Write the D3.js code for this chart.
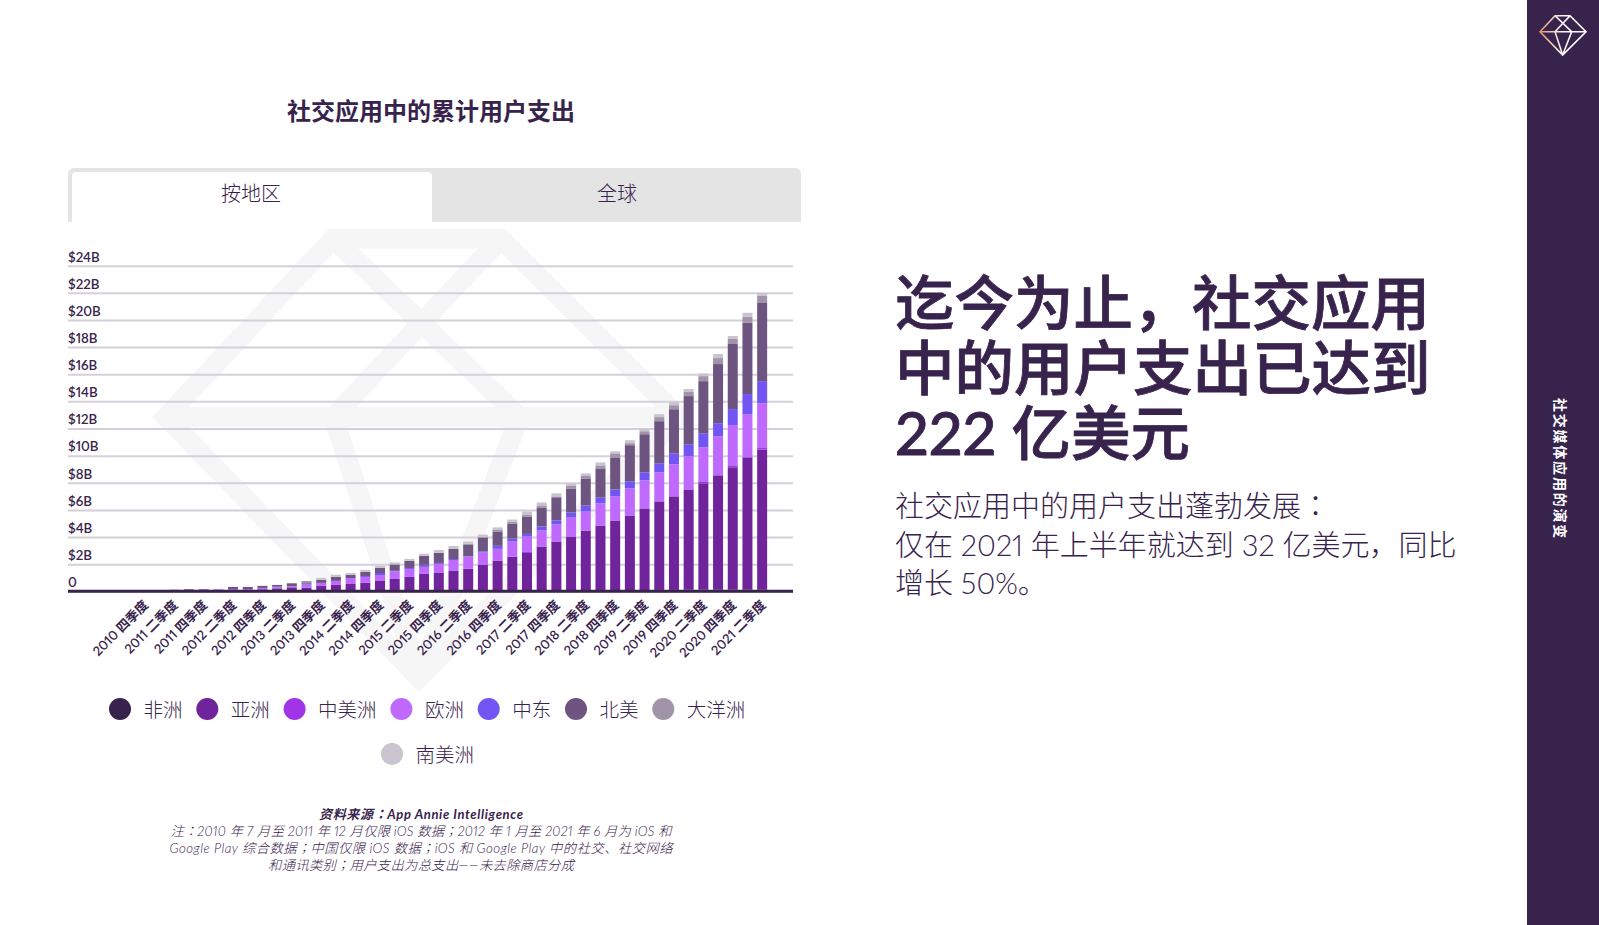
<!DOCTYPE html>
<html>
<head>
<meta charset="utf-8">
<script src="https://cdn.jsdelivr.net/npm/d3@7"></script>
<style>
/* full width comma and colon sit in the middle of the cell in the original */
@font-face { font-family: Punct; font-weight: 300; src: local("Noto Sans CJK KR Light"), local("Noto Sans CJK KR"); unicode-range: U+FF0C, U+FF1A, U+FF1B; }
@font-face { font-family: Punct; font-weight: 400; src: local("Noto Sans CJK KR"); unicode-range: U+FF0C, U+FF1A, U+FF1B; }
@font-face { font-family: Punct; font-weight: 500; src: local("Noto Sans CJK KR Medium"), local("Noto Sans CJK KR"); unicode-range: U+FF0C, U+FF1A, U+FF1B; }
@font-face { font-family: Punct; font-weight: 700; src: local("Noto Sans CJK KR Bold"), local("Noto Sans CJK KR"); unicode-range: U+FF0C, U+FF1A, U+FF1B; }
body { margin: 0; background: #fff; overflow: hidden; }
svg { display: block; }
text { font-family: Punct, Lato, "Noto Sans CJK SC", sans-serif; fill: #38234d; font-variant-numeric: proportional-nums; }
</style>
</head>
<body>
<script>
var svgWidth = 1599;
var svgHeight = 925;

// quarters from 2010 Q4 to 2021 Q2
var quarters = [
    "2010 四季度", "2011 一季度", "2011 二季度", "2011 三季度", "2011 四季度", "2012 一季度", "2012 二季度", "2012 三季度",
    "2012 四季度", "2013 一季度", "2013 二季度", "2013 三季度", "2013 四季度", "2014 一季度", "2014 二季度", "2014 三季度",
    "2014 四季度", "2015 一季度", "2015 二季度", "2015 三季度", "2015 四季度", "2016 一季度", "2016 二季度", "2016 三季度",
    "2016 四季度", "2017 一季度", "2017 二季度", "2017 三季度", "2017 四季度", "2018 一季度", "2018 二季度", "2018 三季度",
    "2018 四季度", "2019 一季度", "2019 二季度", "2019 三季度", "2019 四季度", "2020 一季度", "2020 二季度", "2020 三季度",
    "2020 四季度", "2021 一季度", "2021 二季度"
];

// values in billions of dollars
var africa = [0,0,0,0,0,0,0,0,0,0,0,0,0,0,0,0,0,0,0,0,0,0,0,0,0,0,0,0,0,0,0,0,0,0.05,0.05,0.1,0.1,0.12,0.12,0.12,0.12,0.12,0.12];
var asia = [0,0,0,0,0,0,0.02,0.02,0.15,0.22,0.27,0.27,0.4,0.47,0.54,0.62,0.76,0.91,1.06,1.28,1.35,1.5,1.67,1.97,2.27,2.56,2.83,3.3,3.67,4.04,4.48,4.85,5.22,5.54,6.06,6.53,6.9,7.39,7.84,8.43,9.02,9.76,10.32];
var centralAmerica = [0,0,0,0,0,0,0,0,0,0,0.05,0,0,0,0,0,0,0,0,0,0,0,0,0,0,0,0.07,0,0,0,0,0,0,0,0,0,0,0,0.15,0,0.15,0,0.12];
var europe = [0,0,0,0,0,0.15,0.15,0.15,0.1,0.07,0.05,0.22,0.22,0.3,0.44,0.44,0.44,0.57,0.59,0.52,0.67,0.81,0.89,0.89,0.86,1.11,1.13,1.18,1.26,1.4,1.4,1.63,1.77,2,2.07,2.14,2.36,2.44,2.51,2.88,2.96,3.18,3.3];
var middleEast = [0,0,0,0,0.15,0,0,0,0,0.05,0,0.07,0,0,0,0.07,0.15,0.03,0.07,0.15,0.07,0.07,0.03,0.07,0.22,0.22,0.2,0.3,0.3,0.37,0.44,0.44,0.52,0.52,0.59,0.67,0.81,0.89,1.03,0.96,1.18,1.48,1.63];
var northAmerica = [0,0,0,0.15,0,0,0.15,0.15,0.15,0.13,0.22,0.1,0.22,0.3,0.22,0.3,0.37,0.47,0.52,0.67,0.74,0.74,0.86,1.03,1.06,1.08,1.28,1.4,1.7,1.77,2,2.14,2.36,2.66,2.81,3.1,3.25,3.55,3.84,4.36,4.8,5.25,5.76];
var oceania = [0,0,0,0,0,0,0,0,0,0,0,0.1,0,0,0,0,0,0,0,0,0,0,0.05,0.05,0.15,0.17,0.15,0.15,0.07,0.22,0.22,0.22,0.3,0.15,0.22,0.3,0.3,0.3,0.37,0.44,0.37,0.44,0.52];
var southAmerica = [0,0,0.15,0,0,0,0,0,0,0,0,0,0.15,0.15,0.15,0.15,0.15,0.15,0.15,0.15,0.22,0.22,0.17,0.17,0.15,0.15,0.22,0.22,0.22,0.15,0.15,0.22,0.15,0.22,0.2,0.22,0.22,0.22,0.2,0.3,0.22,0.3,0.22];

var regionNames = ["非洲", "亚洲", "中美洲", "欧洲", "中东", "北美", "大洋洲", "南美洲"];
var regionColors = ["#38234d", "#70249b", "#a234e8", "#c069ff", "#7255f2", "#6e5480", "#a194a9", "#c9c4d0"];
var regionValues = [africa, asia, centralAmerica, europe, middleEast, northAmerica, oceania, southAmerica];
var yTicks = [0, 2, 4, 6, 8, 10, 12, 14, 16, 18, 20, 22, 24];

var headline = ["迄今为止，社交应用", "中的用户支出已达到", "222 亿美元"];
var subline = ["社交应用中的用户支出蓬勃发展：", "仅在 2021 年上半年就达到 32 亿美元，同比", "增长 50%。"];
var notes = [
    "注：2010 年 7 月至 2011 年 12 月仅限 iOS 数据；2012 年 1 月至 2021 年 6 月为 iOS 和",
    "Google Play 综合数据；中国仅限 iOS 数据；iOS 和 Google Play 中的社交、社交网络",
    "和通讯类别；用户支出为总支出——未去除商店分成"
];
var noteWidths = [501, 503, 306];

var svg = d3.select("body").append("svg").attr("width", svgWidth).attr("height", svgHeight);

// gem outline used for the watermark and the corner icon
function gemPath(x, y, s)
{
    var p = function(a, b) { return (x + a * s) + "," + (y + b * s); };
    return "M" + p(0, 0) + "L" + p(45, -48) + "L" + p(90, -48) + "L" + p(138, 0) + "L" + p(68, 70) + "Z" +
        "M" + p(0, 0) + "L" + p(138, 0) +
        "M" + p(45, -48) + "L" + p(95, 0) + "L" + p(68, 70) +
        "M" + p(90, -48) + "L" + p(45, 0) + "L" + p(68, 70);
}

// watermark
svg.append("path")
    .attr("d", gemPath(166, 417, 3.72))
    .attr("fill", "none")
    .attr("stroke", "#f6f6f6")
    .attr("stroke-width", 20)
    .attr("stroke-linejoin", "miter");

// sidebar
svg.append("rect").attr("x", 1527).attr("y", 0).attr("width", 72).attr("height", svgHeight).attr("fill", "#38234d");

var gradient = svg.append("defs").append("linearGradient")
    .attr("id", "gemStroke").attr("gradientUnits", "userSpaceOnUse")
    .attr("x1", 1540).attr("x2", 1570).attr("y1", 32).attr("y2", 32);
gradient.append("stop").attr("offset", "0").attr("stop-color", "#e0926a");
gradient.append("stop").attr("offset", "0.6").attr("stop-color", "#f4e9e4");
gradient.append("stop").attr("offset", "1").attr("stop-color", "#ffffff");

svg.append("path")
    .attr("d", gemPath(1540, 31.7, 1 / 3))
    .attr("fill", "none")
    .attr("stroke", "url(#gemStroke)")
    .attr("stroke-width", 1.6);

svg.append("text")
    .attr("transform", "translate(1560,469) rotate(90)")
    .attr("text-anchor", "middle")
    .attr("dominant-baseline", "central")
    .attr("font-size", 14)
    .attr("font-weight", 700)
    .attr("letter-spacing", 1.8)
    .style("fill", "#fff")
    .text("社交媒体应用的演变");

// chart title
svg.append("text")
    .attr("x", 431).attr("y", 120)
    .attr("text-anchor", "middle")
    .attr("font-size", 24)
    .attr("font-weight", 700)
    .text("社交应用中的累计用户支出");

// tabs
svg.append("path")
    .attr("d", "M68,222V174a6,6 0 0 1 6,-6H795a6,6 0 0 1 6,6V222Z")
    .attr("fill", "#e4e4e4");
svg.append("path")
    .attr("d", "M72,222V176a4,4 0 0 1 4,-4H428a4,4 0 0 1 4,4V222Z")
    .attr("fill", "#fff");
svg.append("text").attr("x", 251).attr("y", 201).attr("text-anchor", "middle").attr("font-size", 20).attr("font-weight", 300).text("按地区");
svg.append("text").attr("x", 617).attr("y", 201).attr("text-anchor", "middle").attr("font-size", 20).attr("font-weight", 300).text("全球");

// scales
var x = d3.scaleBand().domain(quarters).range([137.5, 769.5]).paddingInner(0.32).paddingOuter(0.16);
var y = d3.scaleLinear().domain([0, 24]).range([591.3, 265.7]);

// gridlines and y labels
var yAxis = svg.append("g")
    .attr("transform", "translate(68,0)")
    .call(d3.axisRight(y).tickValues(yTicks).tickSize(725)
        .tickFormat(function(d) { return d === 0 ? "0" : "$" + d + "B"; }));
yAxis.select(".domain").remove();
yAxis.selectAll(".tick line").attr("stroke", "#d4d0da").attr("stroke-width", 2);
yAxis.selectAll(".tick text")
    .attr("x", 0).attr("dy", "-0.35em")
    .attr("font-family", null)
    .attr("font-size", 13.3)
    .attr("font-weight", 600)
    .style("fill", "#38234d");

// stacked bars
var rows = quarters.map(function(q, i) {
    var row = { quarter: q };
    regionNames.forEach(function(name, j) { row[name] = regionValues[j][i]; });
    return row;
});
var series = d3.stack().keys(regionNames)(rows);

svg.append("g").selectAll("g").data(series).join("g")
    .attr("fill", function(s, i) { return regionColors[i]; })
    .selectAll("rect").data(function(s) { return s; }).join("rect")
    .attr("x", function(d) { return x(d.data.quarter); })
    .attr("width", x.bandwidth())
    .attr("y", function(d) { return y(d[1]); })
    .attr("height", function(d) { return y(d[0]) - y(d[1]); });

// baseline and quarter labels
var xAxis = svg.append("g")
    .attr("transform", "translate(0,591.3)")
    .call(d3.axisBottom(x).tickSize(0)
        .tickValues(quarters.filter(function(q, i) { return i % 2 === 0; })));
xAxis.select(".domain").remove();
xAxis.selectAll(".tick text")
    .attr("font-family", null)
    .attr("font-size", 13)
    .attr("font-weight", 600)
    .attr("text-anchor", "end")
    .attr("transform", "translate(-2,8) rotate(-45)")
    .attr("dy", "0.7em")
    .attr("y", 0)
    .style("fill", "#38234d");

svg.append("line")
    .attr("x1", 68).attr("x2", 793)
    .attr("y1", 591.3).attr("y2", 591.3)
    .attr("stroke", "#38234d").attr("stroke-width", 3);

// legend
var legendX = 120;
var legendItems = regionNames.map(function(name, i) {
    var item = { name: name, color: regionColors[i], x: legendX, y: 709 };
    if (i === 7) { item.x = 392; item.y = 754; }
    legendX += 19.5 * name.length + 48.3;
    return item;
});
var legend = svg.append("g").selectAll("g").data(legendItems).join("g")
    .attr("transform", function(d) { return "translate(" + d.x + "," + d.y + ")"; });
legend.append("circle").attr("r", 11).attr("fill", function(d) { return d.color; });
legend.append("text")
    .attr("x", 23.5).attr("y", 7.5)
    .attr("font-size", 19.5)
    .attr("font-weight", 300)
    .text(function(d) { return d.name; });

// source note
svg.append("text")
    .attr("x", 421).attr("y", 819)
    .attr("text-anchor", "middle")
    .attr("font-size", 13)
    .attr("font-style", "italic")
    .attr("font-weight", 700)
    .attr("textLength", 204)
    .text("资料来源：App Annie Intelligence");
svg.append("g").selectAll("text").data(notes).join("text")
    .attr("x", 421)
    .attr("y", function(d, i) { return 836 + i * 17; })
    .attr("text-anchor", "middle")
    .attr("font-size", 13.3)
    .attr("font-style", "italic")
    .attr("font-weight", 300)
    .attr("textLength", function(d, i) { return noteWidths[i]; })
    .text(function(d) { return d; });

// right hand text
svg.append("g").selectAll("text").data(headline).join("text")
    .attr("x", 895)
    .attr("y", function(d, i) { return 325 + i * 65; })
    .attr("font-size", 59.5)
    .attr("font-weight", 500)
    .attr("stroke", "#38234d")
    .attr("stroke-width", 0.8)
    .text(function(d) { return d; });
svg.append("g").selectAll("text").data(subline).join("text")
    .attr("x", 895)
    .attr("y", function(d, i) { return 517 + i * 38.5; })
    .attr("font-size", 29)
    .attr("font-weight", 300)
    .text(function(d) { return d; });
</script>
</body>
</html>
